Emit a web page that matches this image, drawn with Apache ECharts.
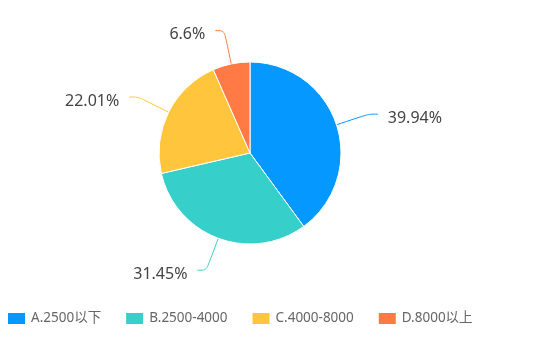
<!DOCTYPE html>
<html>
<head>
<meta charset="utf-8">
<script src="https://cdn.jsdelivr.net/npm/echarts@6/dist/echarts.min.js"></script>
<style>
  html, body { margin: 0; padding: 0; background: #fff; }
  #chart { width: 539px; height: 351px; }
</style>
</head>
<body>
<div id="chart"></div>
<script>
const categories = ['A.2500以下', 'B.2500-4000', 'C.4000-8000', 'D.8000以上'];
const values = [39.94, 31.45, 22.01, 6.6];
const colors = ['#0599FF', '#36CFC9', '#FFC53D', '#FF7A45'];

const chart = echarts.init(document.getElementById('chart'));

const option = {
  color: colors,
  legend: {
    left: 1,
    top: 306,
    itemWidth: 19,
    itemHeight: 13,
    itemGap: 23,
    icon: 'rect',
    textStyle: {
      color: '#666',
      fontSize: 13.5,
      fontFamily: '"Noto Sans", "Noto Sans CJK SC", sans-serif',
    },
    data: categories,
  },
  series: [
    {
      type: 'pie',
      center: [250, 153],
      radius: 91,
      startAngle: 90,
      data: categories.map((name, i) => ({ name, value: values[i] })),
      itemStyle: {
        borderColor: '#fff',
        borderWidth: 1,
      },
      label: {
        formatter: '{v|{c}%}',
        distanceToLabelLine: 10,
        rich: {
          v: {
            color: '#444',
            fontSize: 16,
            padding: [8, 0, 0, 0],
            fontFamily: '"Noto Sans", "Noto Sans CJK SC", sans-serif',
          },
        },
      },
      labelLine: {
        smooth: true,
        length: 34,
        length2: 9,
      },
    },
  ],
};

chart.setOption(option);
</script>
</body>
</html>
